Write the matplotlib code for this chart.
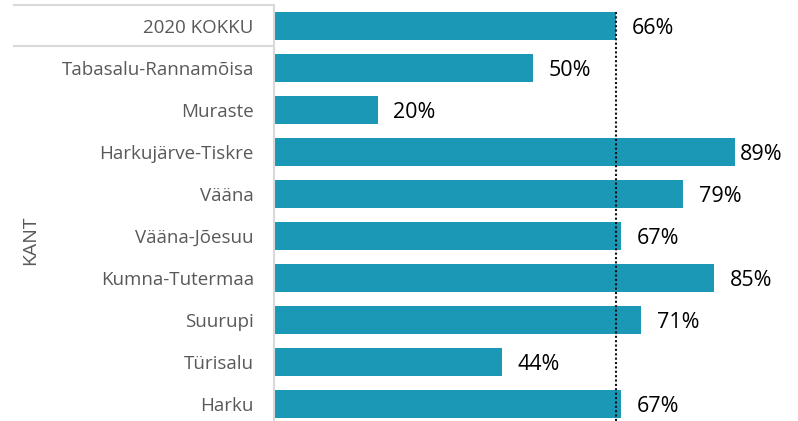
import matplotlib
matplotlib.use("Agg")
import matplotlib.pyplot as plt
from matplotlib.lines import Line2D
from matplotlib.transforms import offset_copy

# data
categories = ["2020 KOKKU", "Tabasalu-Rannamõisa", "Muraste", "Harkujärve-Tiskre",
              "Vääna", "Vääna-Jõesuu", "Kumna-Tutermaa", "Suurupi", "Türisalu", "Harku"]
values = [66, 50, 20, 89, 79, 67, 85, 71, 44, 67]
total_value = 66
label_offsets_px = [16, 16, 16, 5, 16, 16, 16, 16, 16, 16]

bar_color = "#1B98B6"
grey_line = "#D9D9D9"
text_grey = "#595959"

plt.rcParams["font.family"] = ["Open Sans", "DejaVu Sans"]

W, H, DPI = 798, 421, 100
fig = plt.figure(figsize=(W / DPI, H / DPI), dpi=DPI)

# axes placed in pixel terms: x 274..791.5, y 5..425 from top
left, right = 274, 791.5
top, bottom = 5, 425
ax = fig.add_axes([left / W, 1 - bottom / H, (right - left) / W, (bottom - top) / H])

y = list(range(len(categories)))
ax.barh(y, values, height=0.67, color=bar_color, zorder=2)

ax.set_xlim(0, 100)
ax.set_ylim(len(categories) - 0.5, -0.5)

# average line
ax.plot([total_value, total_value], [-0.33, len(categories) - 0.4],
        color="#111111", linestyle=(0, (1, 1.1)), linewidth=1.5, zorder=3, clip_on=False)

# value labels
for yi, v, off in zip(y, values, label_offsets_px):
    tr = offset_copy(ax.transData, fig=fig, x=off * 72 / DPI, y=-1.5, units="points")
    ax.text(v, yi, f"{v}%", transform=tr, ha="left", va="center",
            fontsize=15.5, color="#000000")

ax.set_yticks(y)
ax.set_yticklabels(categories, fontsize=13.5, color=text_grey)
ax.tick_params(axis="y", length=0, pad=14.5)
ax.set_xticks([])

for s in ["top", "right", "bottom"]:
    ax.spines[s].set_visible(False)
ax.spines["left"].set_color(grey_line)
ax.spines["left"].set_linewidth(1.5)

# box around the total row label
x0 = 14 / W
x1 = 273 / W
for yy in (5, 46):
    fig.add_artist(Line2D([x0, x1], [1 - yy / H, 1 - yy / H], color=grey_line,
                          linewidth=1.5, transform=fig.transFigure))

fig.text(30 / W, 1 - 240 / H, "KANT", rotation=90, ha="center", va="center",
         fontsize=14, color=text_grey)

fig.savefig("out.png", dpi=DPI)
